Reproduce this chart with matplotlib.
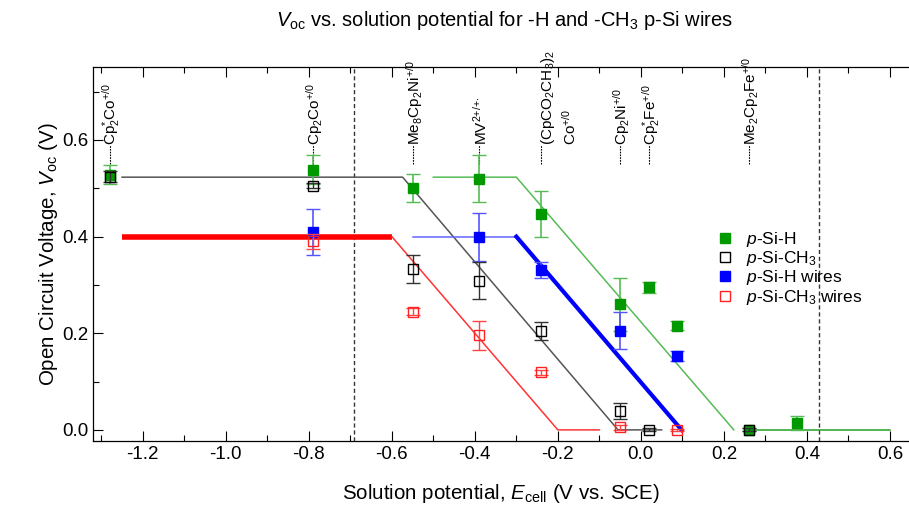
import matplotlib
matplotlib.use("Agg")
import matplotlib.pyplot as plt
from matplotlib.lines import Line2D
from matplotlib.ticker import MultipleLocator

plt.rcParams['font.family'] = ['Liberation Sans', 'DejaVu Sans']
plt.rcParams['mathtext.fontset'] = 'custom'
plt.rcParams['mathtext.rm'] = 'Liberation Sans'
plt.rcParams['mathtext.it'] = 'Liberation Sans:italic'
plt.rcParams['mathtext.bf'] = 'Liberation Sans:bold'

# ---------------- data ----------------
couple_x = [-1.28, -0.79, -0.55, -0.39, -0.05, 0.02, 0.26]
couple_labels = [r'Cp$^{*}_{2}$Co$^{{+}/0}$', r'Cp$_2$Co$^{{+}/0}$', r'Me$_8$Cp$_2$Ni$^{{+}/0}$',
                 r'MV$^{2{+}/{+}{\cdot}}$', r'Cp$_2$Ni$^{{+}/0}$', r'Cp$^{*}_{2}$Fe$^{{+}/0}$',
                 r'Me$_2$Cp$_2$Fe$^{{+}/0}$']
couple2_x = -0.24
couple2_lines = [r'(CpCO$_2$CH$_3$)$_2$', r'Co$^{{+}/0}$']

ref_lines_x = [-0.69, 0.43]

h_x = [-1.28, -0.79, -0.55, -0.39, -0.24, -0.05, 0.02, 0.086, 0.26, 0.375]
h_y = [0.528, 0.538, 0.500, 0.520, 0.447, 0.260, 0.295, 0.216, 0.0, 0.014]
h_err = [0.02, 0.03, 0.029, 0.049, 0.047, 0.055, 0.011, 0.010, 0.003, 0.015]

ch3_x = [-1.28, -0.79, -0.55, -0.39, -0.24, -0.05, 0.02, 0.26]
ch3_y = [0.524, 0.505, 0.333, 0.309, 0.205, 0.039, 0.0, 0.0]
ch3_err = [0.012, 0.005, 0.029, 0.039, 0.019, 0.017, 0.003, 0.003]

hw_x = [-0.79, -0.39, -0.24, -0.05, 0.086]
hw_y = [0.409, 0.399, 0.331, 0.205, 0.153]
hw_err = [0.048, 0.050, 0.017, 0.038, 0.010]

ch3w_x = [-0.79, -0.55, -0.39, -0.24, -0.05, 0.086]
ch3w_y = [0.390, 0.245, 0.196, 0.119, 0.005, 0.0]
ch3w_err = [0.016, 0.008, 0.030, 0.005, 0.005, 0.002]

# fit lines (flat / slope -1 / flat)
h_fit_x = [-0.50, -0.30, 0.224]
h_fit_y = [0.523, 0.523, 0.0]
h_tail_x = [0.25, 0.60]
h_tail_y = [0.0, 0.0]
ch3_fit_x = [-1.25, -0.574, -0.055, 0.05]
ch3_fit_y = [0.523, 0.523, 0.0, 0.0]
hw_flat_x = [-0.55, -0.30]
hw_flat_y = [0.40, 0.40]
hw_slope_x = [-0.30, 0.098]
hw_slope_y = [0.40, 0.0]
ch3w_flat_x = [-1.25, -0.60]
ch3w_flat_y = [0.40, 0.40]
ch3w_slope_x = [-0.60, -0.20, -0.10]
ch3w_slope_y = [0.40, 0.0, 0.0]

# ---------------- figure ----------------
fig = plt.figure(figsize=(9.09, 5.05), dpi=100)
ax = fig.add_axes([93/909, 1-441/505, 1-93/909, (441-67)/505])
ax.set_xlim(-1.32, 0.646)
ax.set_ylim(-0.023, 0.751)

green = '#009900'
lgreen = '#55bb55'

# fit lines
ax.plot(ch3_fit_x, ch3_fit_y, color='#555555', lw=1.1, zorder=2)
ax.plot(h_fit_x, h_fit_y, color=lgreen, lw=1.1, zorder=2)
ax.plot(h_tail_x, h_tail_y, color='#22a022', lw=1.1, zorder=2)
ax.plot(hw_flat_x, hw_flat_y, color='#6666ff', lw=1.1, zorder=2)
ax.plot(hw_slope_x, hw_slope_y, color='#0000ff', lw=3, zorder=2)
ax.plot(ch3w_flat_x, ch3w_flat_y, color='#ff0000', lw=4, zorder=2, solid_capstyle='butt')
ax.plot(ch3w_slope_x, ch3w_slope_y, color='#ff3333', lw=1.1, zorder=2)

# reference dashed lines
for xv in ref_lines_x:
    ax.axvline(xv, color='#333333', lw=1, ls=(0, (3, 2)), zorder=1)

ms = 7.5
cs = 5
ax.errorbar(ch3_x, ch3_y, yerr=ch3_err, fmt='s', ms=ms, mfc='none', mec='black', mew=1,
            ecolor='#333333', elinewidth=1, capsize=cs, capthick=1, zorder=4)
ax.errorbar(h_x, h_y, yerr=h_err, fmt='s', ms=ms, mfc=green, mec=green, mew=1,
            ecolor=lgreen, elinewidth=1.2, capsize=cs, capthick=1.2, zorder=3)
ax.errorbar(hw_x, hw_y, yerr=hw_err, fmt='s', ms=ms, mfc='#0000ff', mec='#0000ff', mew=1,
            ecolor='#5555ff', elinewidth=1.2, capsize=cs, capthick=1.2, zorder=3)
ax.errorbar(ch3w_x, ch3w_y, yerr=ch3w_err, fmt='s', ms=ms, mfc='none', mec='#ff2222', mew=1,
            ecolor='#ff4444', elinewidth=1, capsize=cs, capthick=1, zorder=4)

# redox couple labels
lab_fs = 11
lab_y = 0.589
for xv, lab in zip(couple_x, couple_labels):
    ax.plot([xv, xv], [0.55, lab_y], color='black', lw=0.8, ls=(0, (1.5, 1)), zorder=2)
    ax.text(xv + 0.004, lab_y, lab, rotation=90, ha='center', va='bottom', fontsize=lab_fs)
ax.plot([couple2_x, couple2_x], [0.55, lab_y], color='black', lw=0.8, ls=(0, (1.5, 1)), zorder=2)
ax.text(couple2_x + 0.016, lab_y, couple2_lines[0], rotation=90, ha='center', va='bottom', fontsize=lab_fs)
ax.text(couple2_x + 0.068, lab_y, couple2_lines[1], rotation=90, ha='center', va='bottom', fontsize=lab_fs)

# axes styling
ax.spines['right'].set_visible(False)
ax.xaxis.set_major_locator(MultipleLocator(0.2))
ax.xaxis.set_minor_locator(MultipleLocator(0.1))
ax.yaxis.set_major_locator(MultipleLocator(0.2))
ax.yaxis.set_minor_locator(MultipleLocator(0.1))
ax.tick_params(which='both', direction='in', top=True, right=False, labelsize=13.5, width=0.8)
ax.tick_params(which='major', length=7)
ax.tick_params(which='minor', length=4)
ax.xaxis.set_major_formatter(matplotlib.ticker.FuncFormatter(lambda v, p: f'{v:.1f}'.replace('-0.0', '0.0')))
ax.yaxis.set_major_formatter(matplotlib.ticker.FuncFormatter(lambda v, p: f'{v:.1f}'))
for sp in ['left', 'bottom', 'top']:
    ax.spines[sp].set_linewidth(0.9)

ax.set_xlabel(r'Solution potential, $\mathit{E}_{\mathrm{cell}}$ (V vs. SCE)', fontsize=14.8, labelpad=14)
ax.set_ylabel(r'Open Circuit Voltage, $\mathit{V}_{\mathrm{oc}}$ (V)', fontsize=14.8, labelpad=1)
fig.text(505/909, 1-20/505, r'$\mathit{V}_{\mathrm{oc}}$ vs. solution potential for -H and -CH$_3$ p-Si wires',
         ha='center', va='center', fontsize=14.5)

handles = [
    Line2D([], [], ls='none', marker='s', ms=7, mfc=green, mec=green),
    Line2D([], [], ls='none', marker='s', ms=7, mfc='none', mec='black'),
    Line2D([], [], ls='none', marker='s', ms=7, mfc='#0000ff', mec='#0000ff'),
    Line2D([], [], ls='none', marker='s', ms=7, mfc='none', mec='#ff2222'),
]
labels = [r'$\mathit{p}$-Si-H', r'$\mathit{p}$-Si-CH$_3$', r'$\mathit{p}$-Si-H wires', r'$\mathit{p}$-Si-CH$_3$ wires']
ax.legend(handles, labels, loc='upper left', bbox_to_anchor=(708/909, 1-221/505),
          bbox_transform=fig.transFigure, frameon=False, fontsize=12.5,
          handlelength=1.0, handletextpad=0.7, labelspacing=0.02, borderpad=0)

fig.savefig('out.png', dpi=100)
